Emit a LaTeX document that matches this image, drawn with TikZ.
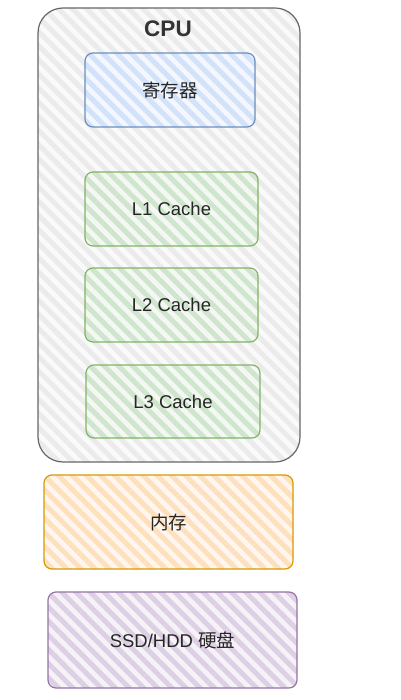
\documentclass[tikz,border=0pt]{standalone}
\usepackage{fontspec}
\setmainfont{Liberation Sans}
\newfontfamily\cjk{Noto Sans CJK SC}
\usetikzlibrary{patterns.meta}
\definecolor{cpuF}{HTML}{EBEBEB}
\definecolor{cpuD}{HTML}{666666}
\definecolor{bluF}{HTML}{D2E2FA}
\definecolor{bluD}{HTML}{6C8EBF}
\definecolor{grnF}{HTML}{D0E5CE}
\definecolor{grnD}{HTML}{82B366}
\definecolor{orgF}{HTML}{FFE0BE}
\definecolor{orgD}{HTML}{D79B00}
\definecolor{purF}{HTML}{DDD0E4}
\definecolor{purD}{HTML}{9673A6}
\tikzset{
  hatchbox/.style n args={2}{draw=#2, line width=1.2pt, rounded corners=8pt,
    preaction={fill=#1!25!white},
    pattern={Lines[angle=-45,distance=10pt,line width=5pt]}, pattern color=#1,
    font=\fontsize{18.5}{22}\selectfont, text=black!85, inner sep=0pt},
}
\begin{document}
\begin{tikzpicture}[x=1pt,y=-1pt]
\useasboundingbox[fill=white] (0,0) rectangle (400,700);
\node[hatchbox={cpuF}{cpuD}, rounded corners=25pt, minimum width=262pt, minimum height=454pt] (cpu) at (169,235) {};
\node[font=\bfseries\fontsize{22.5}{26}\selectfont, text=black!80] (cpulabel) at (168,29) {CPU};
\node[hatchbox={bluF}{bluD}, minimum width=170pt, minimum height=74pt] (reg) at (170,90) {\cjk 寄存器};
\node[hatchbox={grnF}{grnD}, minimum width=173pt, minimum height=74pt] (l1) at (171.5,209) {L1 Cache};
\node[hatchbox={grnF}{grnD}, minimum width=173pt, minimum height=74pt] (l2) at (171.5,305) {L2 Cache};
\node[hatchbox={grnF}{grnD}, minimum width=174pt, minimum height=73pt] (l3) at (173,401.5) {L3 Cache};
\node[hatchbox={orgF}{orgD}, minimum width=249pt, minimum height=94pt] (mem) at (168.5,522) {\cjk 内存};
\node[hatchbox={purF}{purD}, minimum width=249pt, minimum height=96pt] (disk) at (172.5,640) {SSD/HDD {\cjk 硬盘}};
\end{tikzpicture}
\end{document}
